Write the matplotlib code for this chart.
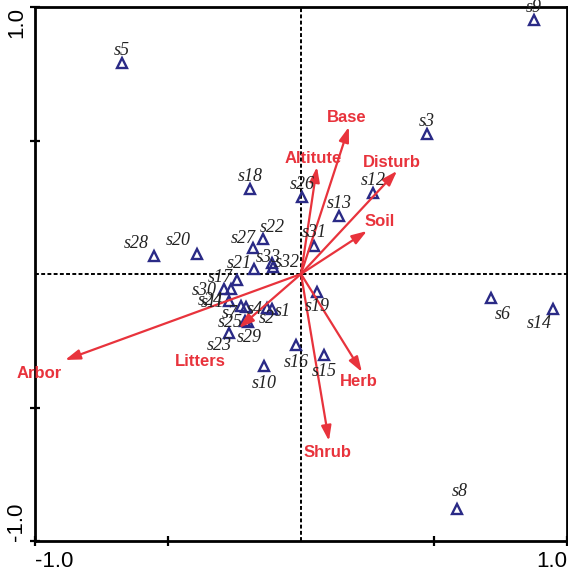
import matplotlib
matplotlib.use("Agg")
import matplotlib.pyplot as plt

# sample scores (axis 1, axis 2)
samples = ["s1", "s2", "s3", "s4", "s5", "s6", "s7", "s8", "s9", "s10", "s11",
           "s12", "s13", "s14", "s15", "s16", "s17", "s18", "s19", "s20", "s21",
           "s22", "s23", "s24", "s25", "s26", "s27", "s28", "s29", "s30", "s31",
           "s32", "s33"]
sample_x = [-0.109, -0.128, 0.474, -0.207, -0.673, 0.714, -0.226, 0.586, 0.876, -0.139, -0.271,
            0.271, 0.143, 0.947, 0.086, -0.019, -0.241, -0.192, 0.060, -0.391, -0.177,
            -0.143, -0.271, -0.263, -0.211, 0.004, -0.180, -0.553, -0.199, -0.289, 0.049,
            -0.105, -0.109]
sample_y = [-0.131, -0.127, 0.524, -0.124, 0.790, -0.090, -0.120, -0.880, 0.951, -0.345, -0.101,
            0.303, 0.217, -0.131, -0.303, -0.266, -0.022, 0.318, -0.067, 0.075, 0.019,
            0.131, -0.221, -0.056, -0.176, 0.288, 0.097, 0.067, -0.180, -0.056, 0.105,
            0.026, 0.041]

# environmental variables (arrow tips)
env_vars = ["Base", "Altitute", "Disturb", "Soil", "Herb", "Shrub", "Arbor", "Litters"]
env_x = [0.180, 0.060, 0.361, 0.248, 0.229, 0.105, -0.887, -0.233]
env_y = [0.551, 0.401, 0.386, 0.161, -0.367, -0.625, -0.322, -0.202]

# label offsets in pixels (dx, dy up), default is straight above
px = 0.72
label_offsets = {
    "s28": (-18, 13), "s20": (-19, 13), "s22": (9, 12), "s27": (-10, 10),
    "s33": (-4, 6), "s32": (14, 5), "s21": (-15, 5), "s17": (-17, 2),
    "s30": (-20, -2), "s11": (-16, -2), "s24": (-21, -12), "s7": (-11, -7),
    "s4": (9, -2), "s2": (0, -11), "s1": (11, -3), "s25": (-15, -2),
    "s29": (1, -15), "s23": (-10, -12), "s10": (0, -17), "s16": (0, -17),
    "s15": (0, -17), "s19": (0, -15), "s6": (12, -16), "s14": (-14, -15),
    "s8": (3, 17),
}
env_label_pos = {
    "Base": (0.173, 0.588), "Altitute": (0.045, 0.434), "Disturb": (0.342, 0.416),
    "Soil": (0.297, 0.195), "Herb": (0.218, -0.404), "Shrub": (0.101, -0.667),
    "Arbor": (-0.985, -0.371), "Litters": (-0.380, -0.326),
}

red = "#e8333c"
navy = "#2a2a86"

fig = plt.figure(figsize=(5.68, 5.74), dpi=100)
ax = fig.add_axes([35 / 568, 33 / 574, 532 / 568, 534 / 574])
ax.set_xlim(-1, 1)
ax.set_ylim(-1, 1)

ax.axhline(0, color="black", lw=1.4, ls=(0, (2, 1.2)), zorder=1)
ax.axvline(0, color="black", lw=1.4, ls=(0, (2, 1.2)), zorder=1)

for name, x, y in zip(env_vars, env_x, env_y):
    ax.annotate("", xy=(x, y), xytext=(0, 0),
                arrowprops=dict(arrowstyle="-|>,head_length=0.9,head_width=0.3",
                                color=red, lw=1.6, shrinkA=0, shrinkB=0),
                zorder=3)
    lx, ly = env_label_pos[name]
    ax.text(lx, ly, name, color=red, fontsize=12, fontweight="bold",
            family="Liberation Sans", ha="center", va="center", clip_on=False, zorder=4)

ax.plot(sample_x, sample_y, ls="none", marker="^", ms=6.5, mfc="none",
        mec=navy, mew=1.7, zorder=2)
for name, x, y in zip(samples, sample_x, sample_y):
    dx, dy = label_offsets.get(name, (0, 13))
    ax.annotate(name, (x, y), xytext=(dx * px, dy * px), textcoords="offset points",
                ha="center", va="center", fontsize=13, style="italic",
                family="Liberation Serif", color="#222222", zorder=4)

for s in ax.spines.values():
    s.set_linewidth(2)

ax.set_xticks([-1, -0.5, 0.5, 1])
ax.set_xticklabels(["-1.0", "", "", "1.0"], fontsize=16, family="Liberation Sans")
ax.set_yticks([-1, -0.5, 0.5, 1])
ax.set_yticklabels(["-1.0", "", "", "1.0"], fontsize=16, family="Liberation Sans",
                   rotation=90)
ax.tick_params(direction="inout", length=7, width=1.6)
ax.tick_params(axis="x", pad=4)
ax.tick_params(axis="y", pad=2)
xl = ax.get_xticklabels()
xl[0].set_ha("left")
xl[-1].set_ha("right")
yl = ax.get_yticklabels()
yl[0].set_va("bottom")
yl[-1].set_va("top")

fig.savefig("out.png", dpi=100)
